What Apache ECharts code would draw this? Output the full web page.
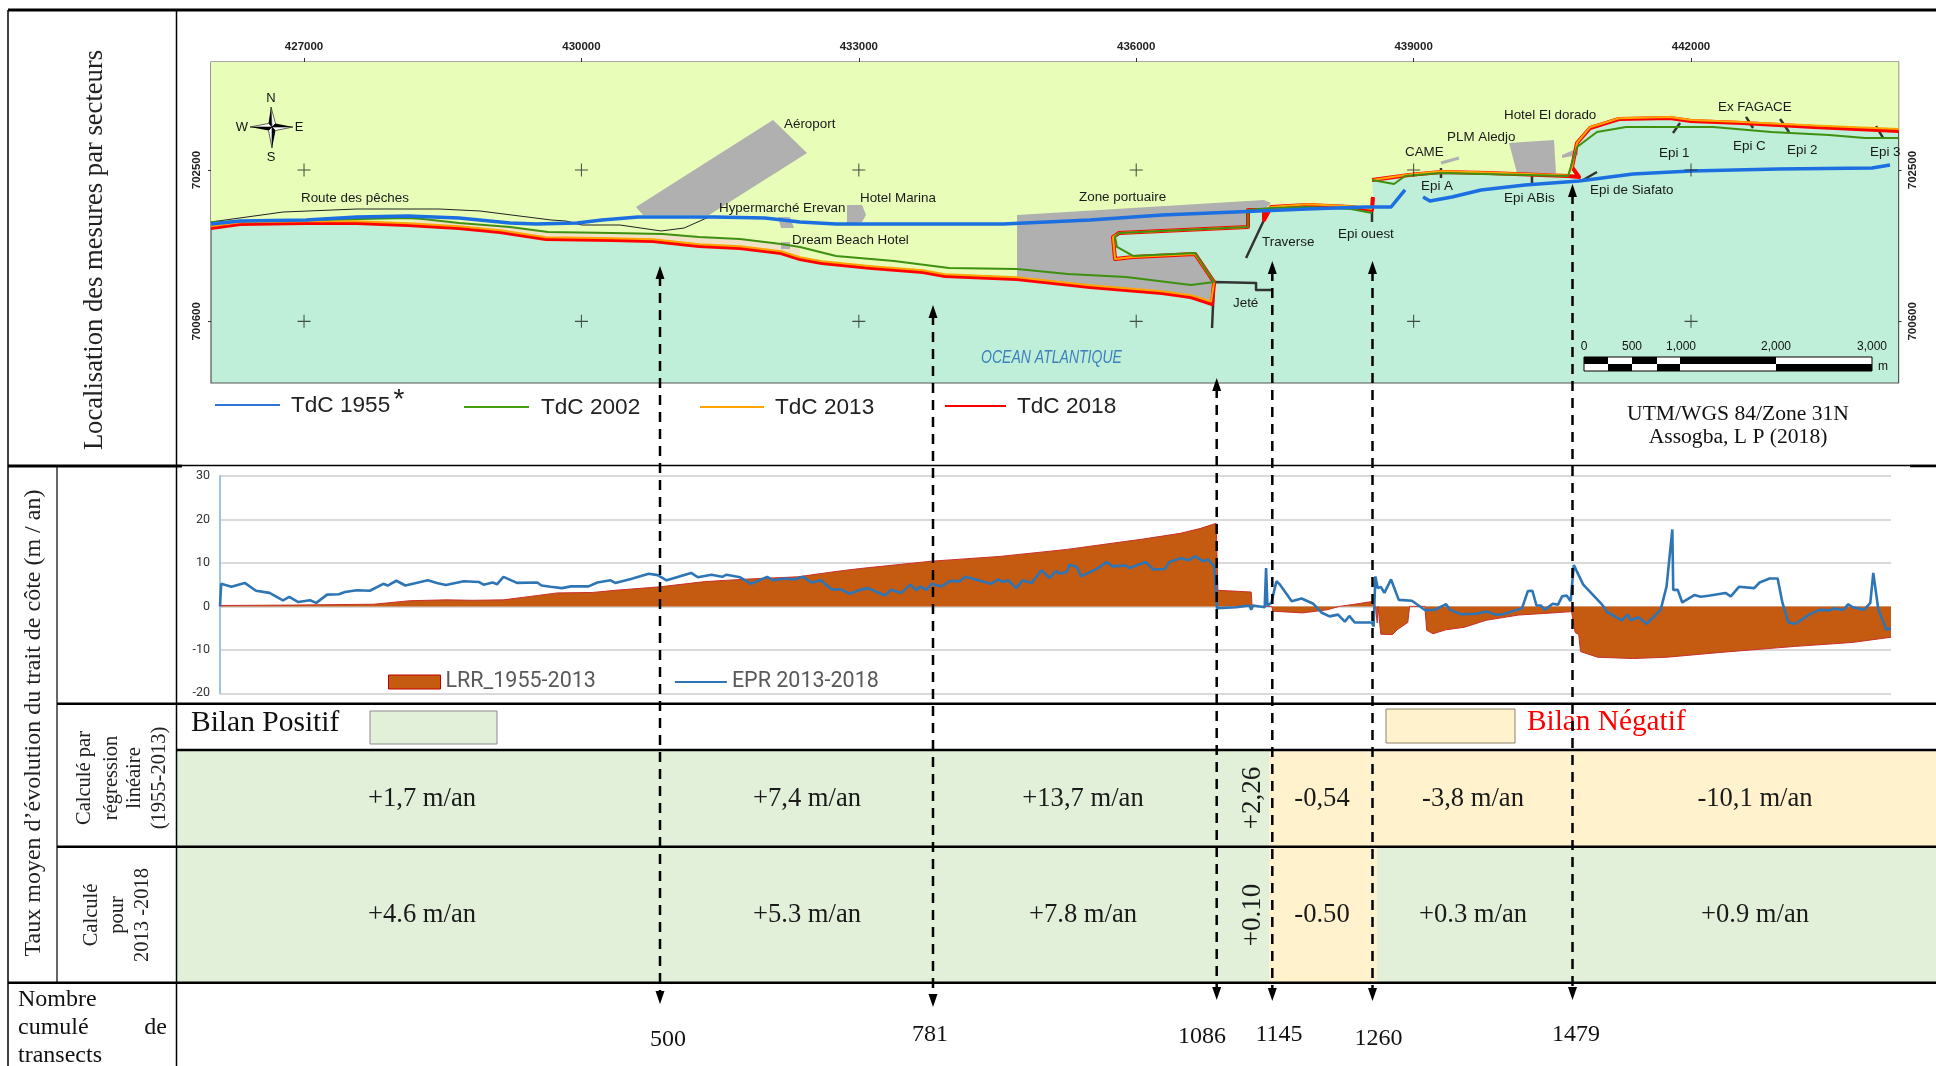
<!DOCTYPE html>
<html><head><meta charset="utf-8">
<style>html,body{margin:0;padding:0;background:#fff}#c{width:1936px;height:1066px}</style>
<script src="https://cdn.jsdelivr.net/npm/echarts@6/dist/echarts.min.js"></script>
</head><body><div id="c"></div>
<script>
// ---------- Map ticks (UTM metres) ----------
const utmEastTicks = [427000, 430000, 433000, 436000, 439000, 442000];
const utmNorthTicks = [700600, 702500];

// ---------- Shorelines and map features, [easting, northing] ----------
const tdc1955 = [[425994,701823],[426308,701860],[427021,701873],[427573,701911],[428124,701923],[428676,701898],[429228,701835],[429509,701823],[429952,701835],[430223,701873],[430612,701911],[431434,701911],[431985,701898],[432364,701848],[432753,701823],[433543,701823],[434560,701823],[435500,701873],[436279,701936],[437068,701973],[437847,702011],[438475,702036],[438756,702036],[438907,702250],null,[439102,702162],[439177,702112],[439415,702162],[439729,702250],[440205,702312],[440789,702363],[441372,702451],[442000,702488],[442941,702513],[443958,702526],[444152,702564]];
const tdc2002 = [[425994,701848],[428124,701898],[428287,701885],[428676,701835],[429228,701785],[429639,701722],[430331,701710],[430882,701697],[431272,701659],[431715,701634],[432159,701571],[432364,701534],[432753,701421],[433381,701358],[433975,701270],[434711,701257],[435262,701195],[435890,701157],[436592,701056],[436842,701094],[436636,701458],[435966,701421],[435792,701534],[435771,701659],[435814,701710],[437209,701785],[437209,701998],[437458,702024],[437847,702036],[438323,702011],[438550,701961],null,[438550,702375],[438788,702325],[438907,702425],[439296,702463],[440670,702425],[440713,702589],[440767,702790],[440983,702978],[441297,703041],[442238,703041],[442866,702978],[443493,702940],[443882,702903],[444245,702903]];
const tdc2013 = [[425994,701795],[426308,701845],[427021,701858],[427573,701858],[428124,701833],[428676,701795],[429120,701745],[429617,701657],[430331,701645],[430774,701632],[431272,701569],[431715,701544],[432159,701481],[432364,701406],[432602,701356],[433143,701293],[433694,701243],[433932,701192],[434711,701155],[435500,701054],[436279,700979],[436592,700929],[436810,700850],[436842,701094],[436636,701446],[435966,701408],[435771,701383],[435749,701659],[435814,701710],[437209,701785],[437209,701998],[437382,701998],[437458,702036],[437847,702070],[438323,702046],[438550,702010],null,[438550,702375],[438950,702445],[439296,702484],[439805,702470],[440670,702433],[440713,702538],[440767,702840],[440908,703038],[441221,703150],[441772,703165],[442000,703128],[442552,703105],[443330,703060],[444245,703015]];
const tdc2018 = [[425994,701772],[426308,701823],[427021,701835],[427573,701835],[428124,701810],[428676,701772],[429120,701722],[429617,701634],[430331,701622],[430774,701609],[431272,701546],[431715,701521],[432159,701458],[432364,701383],[432602,701333],[433143,701270],[433694,701220],[433932,701169],[434711,701132],[435500,701031],[436279,700956],[436592,700906],[436820,700818],[436842,701094],[436636,701446],[435966,701408],[435771,701383],[435749,701659],[435814,701710],[437209,701785],[437209,701998],[437382,701998],[437382,701873],[437458,702036],[437847,702061],[438323,702036],[438550,701998],[438561,702162],null,[438550,702375],[438950,702438],[439296,702476],[439805,702463],[440670,702425],[440789,702413],[440713,702538],[440767,702840],[440908,703028],[441221,703141],[441772,703154],[442000,703116],[442552,703091],[443330,703041],[444245,702991]];
const fishingRoad = [[425994,701848],[426773,701973],[427573,702011],[428460,702011],[428903,701986],[429671,701873],[429833,701860],[430006,701810],[430417,701810],[430861,701735],[431110,701772],[431380,701911]];
const structures = [[436842,701094],[437296,701082],[437296,700994],[437458,700994],null,[436842,701094],[436820,700516],null,[437382,701873],[437188,701396],null,[438550,702149],[438550,701848],null,[439296,702526],[439296,702400],null,[440280,702463],[440280,702338],null,[440832,702375],[440983,702476],null,[441881,703091],[441805,702966],null,[442595,703167],[442671,703028],null,[442963,703141],[443060,702978],null,[444001,703053],[444077,702903]];
const cameBuilding = [[439296,702589],[439491,702652]];
const beachSand = [[428287,701885],[428676,701835],[429228,701785],[429639,701722],[430331,701710],[430882,701697],[431272,701659],[431715,701634],[432159,701571],[432364,701534],[432364,701406],[432159,701481],[431715,701544],[431272,701569],[430774,701632],[430331,701645],[429617,701657],[429120,701745],[428676,701795],[428124,701833]];
const airport = [[430590,702036],[432072,703129],[432440,702714],[431380,701936],[430666,701936]];
const hypermarket = [[432126,701911],[432256,701911],[432299,701772],[432159,701772]];
const hotelMarina = [[432872,702061],[433035,702061],[433078,701936],[433035,701848],[432872,701823]];
const dreamBeach = [[432159,701596],[432256,701596],[432256,701509],[432159,701509]];
const portZone = [[434711,701936],[437382,702124],[437458,702086],[437382,701998],[437209,701998],[437209,701785],[435814,701710],[435749,701659],[435771,701383],[436592,701458],[436636,701446],[436842,701094],[436820,700818],[436279,700956],[434711,701132]];
const plmAledjo = [[440032,702840],[440518,702878],[440540,702463],[440118,702463]];
const elDorado = [[440605,702689],[440778,702777],[440778,702689],[440605,702652]];

// ---------- Evolution rates, [transect, m/an] ----------
const lrr19552013 = [[0,0.2],[82,0.3],[171,0.5],[211,1.3],[251,1.5],[281,1.4],[315,1.5],[345,2.3],[375,3.1],[414,3.2],[439,3.7],[489,4.5],[539,5.7],[588,6.3],[642,6.8],[687,8.1],[711,8.7],[791,10.4],[867,11.5],[941,13.1],[1026,15.5],[1067,16.8],[1089,17.9],[1107,19.1],[1109,3.7],[1146,3.3],[1147,0],[1169,0],[1170,-1.1],[1203,-1.5],[1230,-0.8],[1244,0],[1261,0.5],[1280,1.1],[1284,0],[1286,-3.8],[1287,0],[1289,0],[1290,-6.4],[1303,-6.5],[1308,-5.4],[1320,-3.7],[1322,0],[1339,0],[1341,-5.5],[1348,-6.3],[1362,-5.4],[1383,-4.8],[1407,-3.2],[1443,-2],[1481,-1.5],[1502,-1.2],[1506,-6],[1510,-6.5],[1512,-10.4],[1531,-11.7],[1570,-12],[1608,-11.7],[1667,-10.6],[1751,-9.2],[1814,-8.3],[1857,-7.1]];
const epr20132018 = [[0,0],[1.3,5.2],[12.7,4.5],[27.5,5.4],[40,3.6],[55,3.1],[70,1.4],[77,2.2],[87,1],[100,1.4],[107,0.8],[119,2.7],[132,2.8],[139,3.3],[152,3.7],[166.5,3.6],[181.5,5.2],[186.3,4.8],[196,5.9],[206,4.8],[231,6],[241,5.4],[251,4.9],[271,5.8],[288,5.6],[293,5],[303,5.5],[308,5.1],[315,6.8],[330,5.4],[352.5,5.5],[357.4,4.8],[367.4,4.5],[380,4.2],[390,4.6],[409.5,4.6],[419.4,5.5],[434,6],[439.3,5.4],[456.6,6.3],[476.5,7.5],[486.4,7.2],[496.3,6],[523.6,7.7],[531,6.7],[546,7.3],[558,6.8],[563,7.3],[578,6.7],[590.5,5.2],[608,6.8],[615,6],[628,6.4],[638,6.2],[648,6.8],[657.5,5.5],[667.4,6],[680,3.9],[690,3.9],[700,2.9],[711,3.8],[720,4.2],[739,2.5],[746,3.8],[757,3.1],[767,5],[774,3.7],[778,4.6],[785,3.8],[791,5.2],[802,4.6],[811,5.8],[822,5.8],[828,6.8],[857,5.2],[865,6.2],[870,5.6],[876,6],[885,4.2],[892,6],[902,5.4],[913,8.3],[922,6.5],[929,8.2],[933,7.5],[941,7.9],[944,9.6],[952,9.1],[957,6.9],[976,8.8],[985,10.2],[992,9.2],[1007,9.4],[1011,8.8],[1018,9.4],[1029,10.2],[1037,8.5],[1050,8.6],[1055,10.2],[1068,11.1],[1076,10.6],[1084,11.5],[1092,10.4],[1098,10.8],[1105,9.2],[1108,-0.4],[1129.5,-0.2],[1144,0.2],[1146,-0.8],[1148,0.2],[1161,-0.2],[1162.5,8.8],[1164,0.2],[1168.4,0.8],[1174,5.8],[1178,5],[1191,1.2],[1202,1.8],[1215,0.6],[1224,-1.4],[1233,-2.3],[1242.5,-1.9],[1250,-3.5],[1255,-2.2],[1261,-3.7],[1280,-3.7],[1282,-4.6],[1284,6.9],[1286.6,4.2],[1290,4.5],[1294,3.1],[1301.4,6.2],[1303.5,6],[1310,1.5],[1324.6,1.3],[1339.4,-0.9],[1350,-0.8],[1362.6,0.5],[1367,-0.8],[1379.5,-1.8],[1396.4,-1.7],[1407,-1.2],[1417.5,-1.9],[1426,-1.8],[1447,-0.4],[1453.4,3.5],[1458.5,3.6],[1463,0.2],[1468,0.2],[1472.4,-0.8],[1481,0.6],[1487,0.4],[1491.5,2.3],[1496.5,2.5],[1501,1.2],[1504.5,9.5],[1515,5],[1536,0.4],[1542,-1.4],[1558,-3.2],[1564.5,-1.9],[1568,-3.2],[1576,-2.5],[1585.6,-4],[1601,-0.8],[1607.6,4.6],[1614,17.7],[1615,3.8],[1620,3.8],[1625,0.9],[1638.4,2.6],[1645.6,2.2],[1656,2.5],[1673,3.1],[1679,2.3],[1688,4.5],[1705,4.2],[1711,5.5],[1722,6.4],[1731,6.4],[1736.4,0.8],[1743,-3.7],[1751,-4],[1766,-1.9],[1777.4,-0.8],[1789,-0.9],[1793.4,-0.5],[1804,-0.8],[1809.5,0.5],[1814.5,-0.2],[1827,-0.8],[1834,0.8],[1837.3,7.7],[1843,-0.8],[1852,-5.4],[1857,-5]];

// ---------- Text tables ----------
const rowLinear = ['+1,7 m/an','+7,4 m/an','+13,7 m/an','-0,54','-3,8 m/an','-10,1 m/an'];
const rowRecent = ['+4.6 m/an','+5.3 m/an','+7.8 m/an','-0.50','+0.3 m/an','+0.9 m/an'];
const transectCounts = ['500','781','1086','1145','1260','1479'];

// ---------- Layout ----------
const SERIF = '"Liberation Serif", serif', SANS = '"Liberation Sans", Arial, sans-serif';
const GREEN = '#e2efd9', YELLOW = '#fff2cc';
const MAP = {left:211, top:62, width:1687.6, height:321};
const PLOT = {left:220, top:476, width:1671, height:217.3};
const g = [];
const rect = (x,y,w,h,fill,stroke,z) => g.push({type:'rect',silent:true,z:z||1,shape:{x,y,width:w,height:h},style:{fill,stroke:stroke||null,lineWidth:stroke?1:0}});
const line = (x1,y1,x2,y2,w,color,dash,z) => g.push({type:'line',silent:true,z:z||50,shape:{x1,y1,x2,y2},style:{stroke:color||'#000',lineWidth:w,lineDash:dash||null}});
const text = (x,y,s,font,fill,align,rot,sx) => g.push({type:'text',silent:true,z:60,x,y,scaleX:sx||1,rotation:rot?Math.PI/2:0,style:{text:s,font,fill:fill||'#111',align:align||'center',verticalAlign:'middle'}});
const tri = (pts,fill) => g.push({type:'polygon',silent:true,z:60,shape:{points:pts},style:{fill,stroke:'#000',lineWidth:fill==='#000'?0:0.6}});

// cells
rect(177,750,1092,96.7,GREEN); rect(1269,750,667,96.7,YELLOW);
rect(177,846.7,1092,136,GREEN); rect(1269,846.7,108,136,YELLOW); rect(1377,846.7,559,136,GREEN);
rect(370,711,127,33,GREEN,'#8c8c8c'); rect(1386,709,129,34,YELLOW,'#8b8266');

// frame
line(8,10,1936,10,3);
line(8,10,8,1066,1.5); line(176.5,10,176.5,1066,1.5); line(57,466,57,983,1.2);
line(8,466,182,466,3); line(182,465.5,1936,465.5,1.5); line(1910,466,1936,466,2.5);
line(57,703.7,1936,703.7,2.5); line(176,750,1936,750,2.5); line(57,846.7,1936,846.7,2.5); line(8,982.7,1936,982.7,2.5);

// arrows
const arrows = [[660,266,1004],[933,305,1007],[1216.7,378,1000],[1272.3,261,1001],[1372.5,261,1001],[1572.5,184,1000]];
arrows.forEach(([x,t,b]) => {
  line(x,t+10,x,b-10,2.5,'#000',[10,7],100);
  g.push({type:'polygon',silent:true,z:100,shape:{points:[[x,t],[x-4.5,t+13],[x+4.5,t+13]]},style:{fill:'#000'}});
  g.push({type:'polygon',silent:true,z:100,shape:{points:[[x,b],[x-4.5,b-13],[x+4.5,b-13]]},style:{fill:'#000'}});
});

// left titles
const s24 = n => n+'px '+SERIF;
text(95,250,'Localisation des mesures par secteurs',s24(26.6),'#222','center',true);
text(34,723,"Taux moyen d\u2019\u00e9volution du trait de c\u00f4te (m / an)",s24(24),'#222','center',true);
[['Calcul\u00e9 par',85],['r\u00e9gression',112],['lin\u00e9aire',135],['(1955-2013)',160]].forEach(([s,x]) => text(x,778,s,s24(20.5),'#222','center',true));
[['Calcul\u00e9',92],['pour',118],['2013 -2018',143]].forEach(([s,x]) => text(x,915,s,s24(20.5),'#222','center',true));
text(18,1000,'Nombre',s24(24),'#111','left'); text(18,1028,'cumul\u00e9',s24(24),'#111','left'); text(167,1028,'de',s24(24),'#111','right'); text(18,1056,'transects',s24(24),'#111','left');

// bilan
text(191,723,'Bilan Positif',s24(29.5),'#111','left');
text(1527,722,'Bilan N\u00e9gatif',s24(29.3),'#ff0000','left');

// cell texts
const cellX = [422,807,1083,1322,1473,1755];
rowLinear.forEach((s,i) => text(cellX[i],799,s,s24(26.6),'#1a1a1a'));
rowRecent.forEach((s,i) => text(cellX[i],915,s,s24(26.6),'#1a1a1a'));
text(1253,798,'+2,26',s24(27),'#1a1a1a','center',true);
text(1253,915,'+0.10',s24(27),'#1a1a1a','center',true);

// transect counts
[[668,1040],[930,1035],[1202,1037],[1279,1035],[1378.5,1039],[1576,1035]].forEach(([x,y],i) => text(x,y,transectCounts[i],s24(24),'#111'));

// map legend
[[215,280,405,'#2e75d6','TdC 1955',291],[464,529,407,'#3f9f10','TdC 2002',541],[700,764,407,'#ffa500','TdC 2013',775],[945,1006,406,'#ff0000','TdC 2018',1017]].forEach(([a,b,y,c,s,tx]) => {
  line(a,y,b,y,2,c,null,60); text(tx,y+1,s,'22.6px '+SANS,'#222','left');
});
text(399,400,'*','28px '+SANS,'#222','center');

// map labels
[['Route des p\u00eaches',301,198],['A\u00e9roport',784,124],['Hypermarch\u00e9 Erevan',719,208],['Hotel Marina',860,198],['Dream Beach Hotel',792,240],['Zone portuaire',1079,197],['Traverse',1262,242],['Jet\u00e9',1233,303],['Epi ouest',1338,234],['CAME',1405,152],['PLM Aledjo',1447,137],['Hotel El dorado',1504,115],['Ex FAGACE',1718,107],['Epi 1',1659,153],['Epi C',1733,146],['Epi 2',1787,150],['Epi 3',1870,152],['Epi A',1421,186],['Epi ABis',1504,198],['Epi de Siafato',1590,190]].forEach(([s,x,y]) => text(x,y,s,'13.4px '+SANS,'#1a1a1a','left'));
text(981,358,'OCEAN ATLANTIQUE','italic 18px '+SANS,'#3d80bd','left',false,0.78);

// compass
const C=[272,127],N=[271,107],S=[272,148],W=[250,127],E=[293,127],NE=[275.5,123.5],SE=[275.5,130.5],SW=[268.5,130.5],NW=[268.5,123.5];
[[N,NW,'#000'],[N,NE,'#fff'],[E,NE,'#000'],[E,SE,'#fff'],[S,SE,'#000'],[S,SW,'#fff'],[W,SW,'#000'],[W,NW,'#fff']].forEach(([a,b,f]) => tri([C,a,b],f));
text(271,98,'N','13px '+SANS,'#111'); text(271,157,'S','13px '+SANS,'#111'); text(242,127,'W','13px '+SANS,'#111'); text(299,127,'E','13px '+SANS,'#111');

// scale bar
const sx=[1584,1608,1632,1657,1680,1776,1872];
for(let i=0;i<6;i++){ rect(sx[i],357,sx[i+1]-sx[i],7,i%2?'#fff':'#000',null,60); rect(sx[i],364,sx[i+1]-sx[i],7,i%2?'#000':'#fff',null,60); }
g.push({type:'rect',silent:true,z:61,shape:{x:1584,y:357,width:288,height:14},style:{fill:'none',stroke:'#000',lineWidth:1}});
[['0',1584],['500',1632],['1,000',1681],['2,000',1776],['3,000',1872]].forEach(([s,x]) => text(x,347,s,'12px '+SANS,'#111'));
text(1883,367,'m','12px '+SANS,'#111');

// credits
text(1738,414,'UTM/WGS 84/Zone 31N',s24(21.6),'#111'); text(1738,437,'Assogba, L P (2018)',s24(21.6),'#111');

// ---------- Series helpers ----------
const brk = a => a.map(p => p===null ? ['-','-'] : p);
const mapAxes = {xAxisIndex:0,yAxisIndex:0};
const poly = (name,pts,fill) => ({name,type:'custom',...mapAxes,coordinateSystem:'cartesian2d',silent:true,z:1,clip:true,data:pts,
  renderItem:(p,api) => p.dataIndex===0 ? {type:'polygon',shape:{points:pts.map(q=>api.coord(q))},style:{fill}} : null});
const mline = (name,data,color,width,z) => ({name,type:'line',...mapAxes,data:brk(data),symbol:'none',silent:true,lineStyle:{color,width,join:'round'},z:z,connectNulls:false});

const landPoly = [[425994,703857]].concat(tdc2018.filter(p=>p), [[444245,703857]]);
const axisLabelMap = {fontSize:11.5,fontWeight:'bold',fontFamily:SANS,color:'#222'};
const crosses = []; utmEastTicks.forEach(x => utmNorthTicks.forEach(y => crosses.push([x,y])));

const option = {
  animation:false, backgroundColor:'#fff', graphic:{elements:g},
  grid:[
    {...MAP,show:true,backgroundColor:'#bfeed9',borderColor:'#555',borderWidth:1.2,containLabel:false},
    {...PLOT,show:false,containLabel:false}
  ],
  legend:{left:388,top:671,padding:0,itemWidth:52,itemHeight:14,itemGap:78,data:[
    {name:'LRR_1955-2013',icon:'rect',itemStyle:{color:'#c55a11',borderColor:'#c00000',borderWidth:1}},
    {name:'EPR 2013-2018',itemStyle:{opacity:0}}],textStyle:{fontSize:21.5,fontFamily:'Roboto',color:'#595959'}},
  xAxis:[
    {gridIndex:0,type:'value',position:'top',min:425994,max:444245,axisLine:{show:false},splitLine:{show:false},
     axisTick:{show:true,length:4,customValues:utmEastTicks,lineStyle:{color:'#333'}},
     axisLabel:{...axisLabelMap,margin:9,customValues:utmEastTicks,formatter:v=>String(v)}},
    {gridIndex:1,type:'value',min:0,max:1857,show:false}
  ],
  yAxis:[
    {gridIndex:0,type:'value',position:'left',min:699826,max:703857,axisLine:{show:false},splitLine:{show:false},
     axisTick:{show:true,length:3,customValues:utmNorthTicks,lineStyle:{color:'#333'}},
     axisLabel:{...axisLabelMap,rotate:90,margin:8,customValues:utmNorthTicks,formatter:v=>String(v)}},
    {gridIndex:0,type:'value',position:'right',min:699826,max:703857,axisLine:{show:false},splitLine:{show:false},
     axisTick:{show:true,length:3,customValues:utmNorthTicks,lineStyle:{color:'#333'}},
     axisLabel:{...axisLabelMap,rotate:90,margin:8,customValues:utmNorthTicks,formatter:v=>String(v)}},
    {gridIndex:1,type:'value',min:-20,max:30,interval:10,
     axisLine:{show:true,onZero:false,lineStyle:{color:'#9dc3e6',width:2}},axisTick:{show:false},
     splitLine:{show:true,lineStyle:{color:'#d9d9d9',width:1.8}},
     axisLabel:{fontSize:12.5,fontFamily:'Roboto',color:'#333',margin:10}}
  ],
  series:[
    poly('Terre',landPoly,'#e8fdb8'),
    poly('Plage',beachSand,'#efe2c6'),
    poly('Aéroport',airport,'#b0b0b0'),
    poly('Hypermarché',hypermarket,'#b0b0b0'),
    poly('Marina',hotelMarina,'#b0b0b0'),
    poly('Dream Beach',dreamBeach,'#b0b0b0'),
    poly('Port',portZone,'#b0b0b0'),
    poly('PLM',plmAledjo,'#b0b0b0'),
    poly('El Dorado',elDorado,'#b0b0b0'),
    mline('CAME',cameBuilding,'#b0b0b0',3,2),
    mline('Route',fishingRoad,'#222',1,3),
    mline('Ouvrages',structures,'#333',2.5,3),
    mline('TdC 2018',tdc2018,'#ff0000',4,4),
    mline('TdC 2013',tdc2013,'#ffa500',2,5),
    mline('TdC 2002',tdc2002,'#3f9010',2,6),
    mline('TdC 1955',tdc1955,'#1c6fe0',3.5,7),
    {name:'Croisillons',type:'scatter',...mapAxes,data:crosses,silent:true,symbol:'path://M4.6 0h.8v4.6H10v.8H5.4V10h-.8V5.4H0v-.8h4.6z',symbolSize:13,itemStyle:{color:'#222'},z:8},
    {name:'LRR_1955-2013',type:'line',xAxisIndex:1,yAxisIndex:2,data:lrr19552013,symbol:'none',silent:true,
     lineStyle:{color:'#c9302a',width:1},areaStyle:{color:'#c55a11',opacity:1},z:3},
    {name:'EPR 2013-2018',type:'line',xAxisIndex:1,yAxisIndex:2,data:epr20132018,symbol:'none',silent:true,
     lineStyle:{color:'#2e75b6',width:2.6},itemStyle:{color:'#2e75b6'},z:4}
  ]
};
echarts.init(document.getElementById('c'),null,{renderer:'canvas'}).setOption(option);
</script></body></html>
